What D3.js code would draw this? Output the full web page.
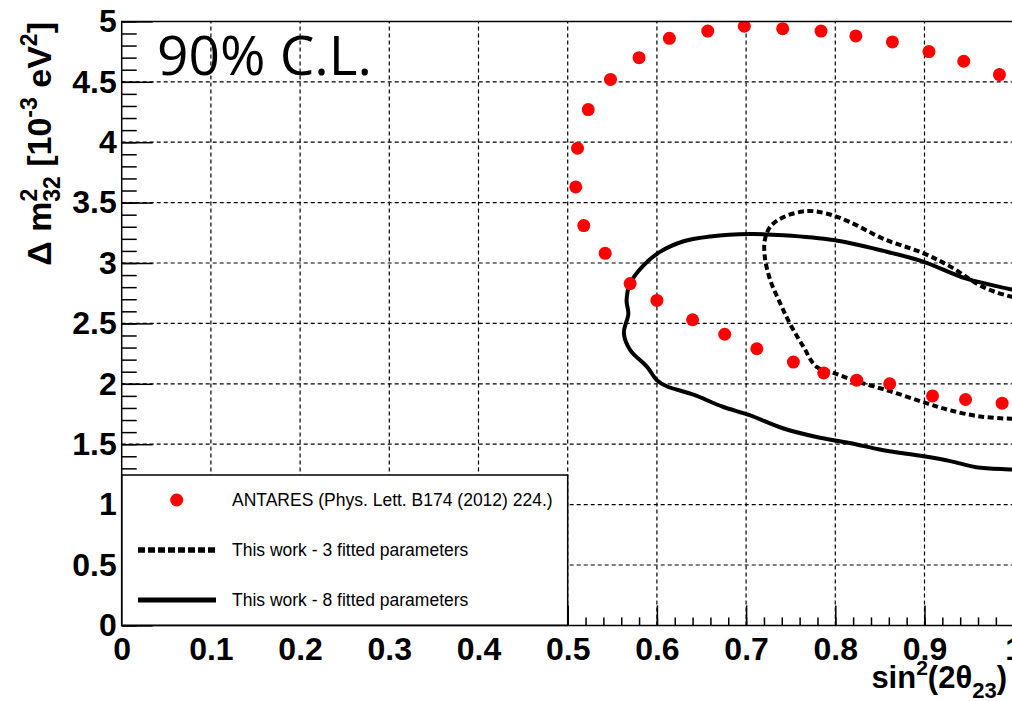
<!DOCTYPE html>
<html lang="en">
<head>
<meta charset="UTF-8">
<title>Contours 90% C.L.</title>
<style>
body { margin: 0; background: #fff; }
.tick text { font-family: "Liberation Sans", Arial, sans-serif; font-weight: bold; font-size: 32px; fill: #000; }
.tick line { stroke: #000; stroke-width: 1.5; }
.grid line { stroke: #000; stroke-width: 1.2; stroke-dasharray: 4,3; }
.title { font-family: "Liberation Sans", Arial, sans-serif; font-weight: bold; }
.leg { font-family: "Liberation Sans", Arial, sans-serif; font-size: 17.5px; }
</style>
</head>
<body>
<script src="https://cdn.jsdelivr.net/npm/d3@7"></script>
<script>
// ticks
var xTicks = [0, 0.1, 0.2, 0.3, 0.4, 0.5, 0.6, 0.7, 0.8, 0.9, 1]
var yTicks = [0, 0.5, 1, 1.5, 2, 2.5, 3, 3.5, 4, 4.5, 5]

// ANTARES points
var antaresX = [0.509, 0.511, 0.523, 0.548, 0.580, 0.614, 0.657, 0.698, 0.741, 0.784, 0.823, 0.864, 0.905, 0.944, 0.984,
                0.518, 0.542, 0.570, 0.600, 0.640, 0.676, 0.712, 0.753, 0.787, 0.824, 0.861, 0.909, 0.946, 0.987]
var antaresY = [3.63, 3.95, 4.27, 4.52, 4.70, 4.86, 4.92, 4.96, 4.94, 4.92, 4.88, 4.83, 4.75, 4.67, 4.56,
                3.31, 3.08, 2.83, 2.69, 2.53, 2.41, 2.29, 2.18, 2.09, 2.03, 2.00, 1.90, 1.87, 1.84]

// this work - 3 fitted parameters (dashed)
var fit3X = [1.02, 0.998, 0.966, 0.929, 0.899, 0.854, 0.816, 0.790, 0.768, 0.742, 0.727, 0.721, 0.721, 0.727, 0.738, 0.749, 0.764, 0.779, 0.798, 0.824, 0.861, 0.902, 0.929, 0.962, 0.998, 1.02]
var fit3Y = [2.69, 2.72, 2.80, 2.97, 3.08, 3.20, 3.34, 3.41, 3.43, 3.38, 3.30, 3.19, 3.05, 2.86, 2.67, 2.50, 2.31, 2.14, 2.09, 2.02, 1.94, 1.84, 1.78, 1.73, 1.71, 1.71]

// this work - 8 fitted parameters (solid)
var fit8X = [1.02, 0.998, 0.947, 0.899, 0.854, 0.798, 0.742, 0.704, 0.660, 0.630, 0.603, 0.585, 0.570, 0.566, 0.568, 0.563, 0.570, 0.589, 0.600, 0.611, 0.641, 0.674, 0.704, 0.742, 0.779, 0.816, 0.854, 0.899, 0.929, 0.958, 0.998, 1.02]
var fit8Y = [2.74, 2.78, 2.87, 3.01, 3.10, 3.19, 3.23, 3.24, 3.22, 3.18, 3.09, 2.98, 2.83, 2.69, 2.58, 2.42, 2.28, 2.14, 2.03, 1.98, 1.91, 1.81, 1.74, 1.63, 1.56, 1.51, 1.45, 1.40, 1.36, 1.31, 1.29, 1.28]

var legendLabels = ['ANTARES (Phys. Lett. B174 (2012) 224.)', 'This work - 3 fitted parameters', 'This work - 8 fitted parameters']

var width = 1012, height = 701
var x0 = 121.7, x1 = 1013.7, y0 = 625.4, y1 = 21.4

var svg = d3.select('body').append('svg').attr('width', width).attr('height', height)

var x = d3.scaleLinear().domain([0, 1]).range([x0, x1])
var y = d3.scaleLinear().domain([0, 5]).range([y0, y1])

svg.append('defs').append('clipPath').attr('id', 'clip')
    .append('rect').attr('x', x0).attr('y', y1).attr('width', x1 - x0).attr('height', y0 - y1)

// grid
var grid = svg.append('g').attr('class', 'grid')
grid.selectAll('.gx').data(xTicks.slice(1, -1)).enter().append('line')
    .attr('x1', d => x(d)).attr('x2', d => x(d)).attr('y1', y0).attr('y2', y1)
grid.selectAll('.gy').data(yTicks.slice(1, -1)).enter().append('line')
    .attr('y1', d => y(d)).attr('y2', d => y(d)).attr('x1', x0).attr('x2', x1)

// axes
var xMinor = d3.range(0, 1.0001, 0.02)
var yMinor = d3.range(0, 5.0001, 0.1)

svg.append('g').attr('transform', 'translate(0,' + y0 + ')')
    .call(d3.axisBottom(x).tickValues(xMinor).tickSizeInner(-8).tickSizeOuter(0).tickFormat(''))
    .select('.domain').remove()
svg.append('g').attr('transform', 'translate(' + x0 + ',0)')
    .call(d3.axisLeft(y).tickValues(yMinor).tickSizeInner(-15).tickSizeOuter(0).tickFormat(''))
    .select('.domain').remove()
var xAx = svg.append('g').attr('transform', 'translate(0,' + y0 + ')')
    .call(d3.axisBottom(x).tickValues(xTicks).tickSizeInner(-20).tickSizeOuter(0).tickPadding(12).tickFormat(d => String(d)))
xAx.select('.domain').remove()
var yAx = svg.append('g').attr('transform', 'translate(' + x0 + ',0)')
    .call(d3.axisLeft(y).tickValues(yTicks).tickSizeInner(-31).tickSizeOuter(0).tickPadding(5).tickFormat(d => String(d)))
yAx.select('.domain').remove()

// curves
var plot = svg.append('g').attr('clip-path', 'url(#clip)')
var line = d3.line().x(d => x(d[0])).y(d => y(d[1])).curve(d3.curveCatmullRom)

plot.append('path').attr('d', line(d3.zip(fit8X, fit8Y)))
    .attr('fill', 'none').attr('stroke', '#000').attr('stroke-width', 4)
plot.append('path').attr('d', line(d3.zip(fit3X, fit3Y)))
    .attr('fill', 'none').attr('stroke', '#000').attr('stroke-width', 4).attr('stroke-dasharray', '6,3.5')

plot.selectAll('circle').data(d3.zip(antaresX, antaresY)).enter().append('circle')
    .attr('cx', d => x(d[0])).attr('cy', d => y(d[1])).attr('r', 6.5).attr('fill', '#ff0000')

// legend
var lg = svg.append('g')
lg.append('rect').attr('x', x0).attr('y', 475).attr('width', x(0.5) - x0).attr('height', y0 - 475)
    .attr('fill', '#fff').attr('stroke', '#000').attr('stroke-width', 1.5)
lg.append('circle').attr('cx', 176.7).attr('cy', 500).attr('r', 6.5).attr('fill', '#ff0000')
lg.append('line').attr('x1', 138).attr('x2', 215).attr('y1', 550).attr('y2', 550)
    .attr('stroke', '#000').attr('stroke-width', 5.5).attr('stroke-dasharray', '7,3')
lg.append('line').attr('x1', 138).attr('x2', 216).attr('y1', 600).attr('y2', 600)
    .attr('stroke', '#000').attr('stroke-width', 5)
lg.selectAll('text').data(legendLabels).enter().append('text').attr('class', 'leg')
    .attr('x', 232).attr('y', (d, i) => 506 + i * 50).text(d => d)

// frame
svg.append('path').attr('d', 'M' + x0 + ',' + y0 + 'V' + y1 + 'H' + x1 + 'M' + x0 + ',' + y0 + 'H' + x1)
    .attr('fill', 'none').attr('stroke', '#000').attr('stroke-width', 1.5)

// x title
var xt = svg.append('text').attr('class', 'title').attr('font-size', 31)
    .attr('x', 1007).attr('y', 688).attr('text-anchor', 'end')
xt.append('tspan').text('sin')
xt.append('tspan').attr('font-size', 21).attr('dy', -13).text('2')
xt.append('tspan').attr('dy', 13).text('(2θ')
xt.append('tspan').attr('font-size', 22).attr('dy', 10).text('23')
xt.append('tspan').attr('dy', -10).text(')')

// y title
var yt = svg.append('text').attr('class', 'title').attr('font-size', 34).attr('text-anchor', 'end')
    .attr('transform', 'translate(51,22) rotate(-90)')
yt.append('tspan').text('Δ m')
yt.append('tspan').attr('font-size', 23).attr('dy', -14).text('2')
yt.append('tspan').attr('font-size', 23).attr('dx', -13).attr('dy', 23).text('32')
yt.append('tspan').attr('dy', -9).text(' [10')
yt.append('tspan').attr('font-size', 23).attr('dy', -14).text('-3')
yt.append('tspan').attr('dy', 14).text(' eV')
yt.append('tspan').attr('font-size', 23).attr('dy', -14).text('2')
yt.append('tspan').attr('dy', 14).text(']')

// label
svg.append('text').attr('x', 157).attr('y', 75)
    .style('font-family', '"Open Sans", sans-serif').style('font-size', '55px').text('90% C.L.')
</script>
</body>
</html>
